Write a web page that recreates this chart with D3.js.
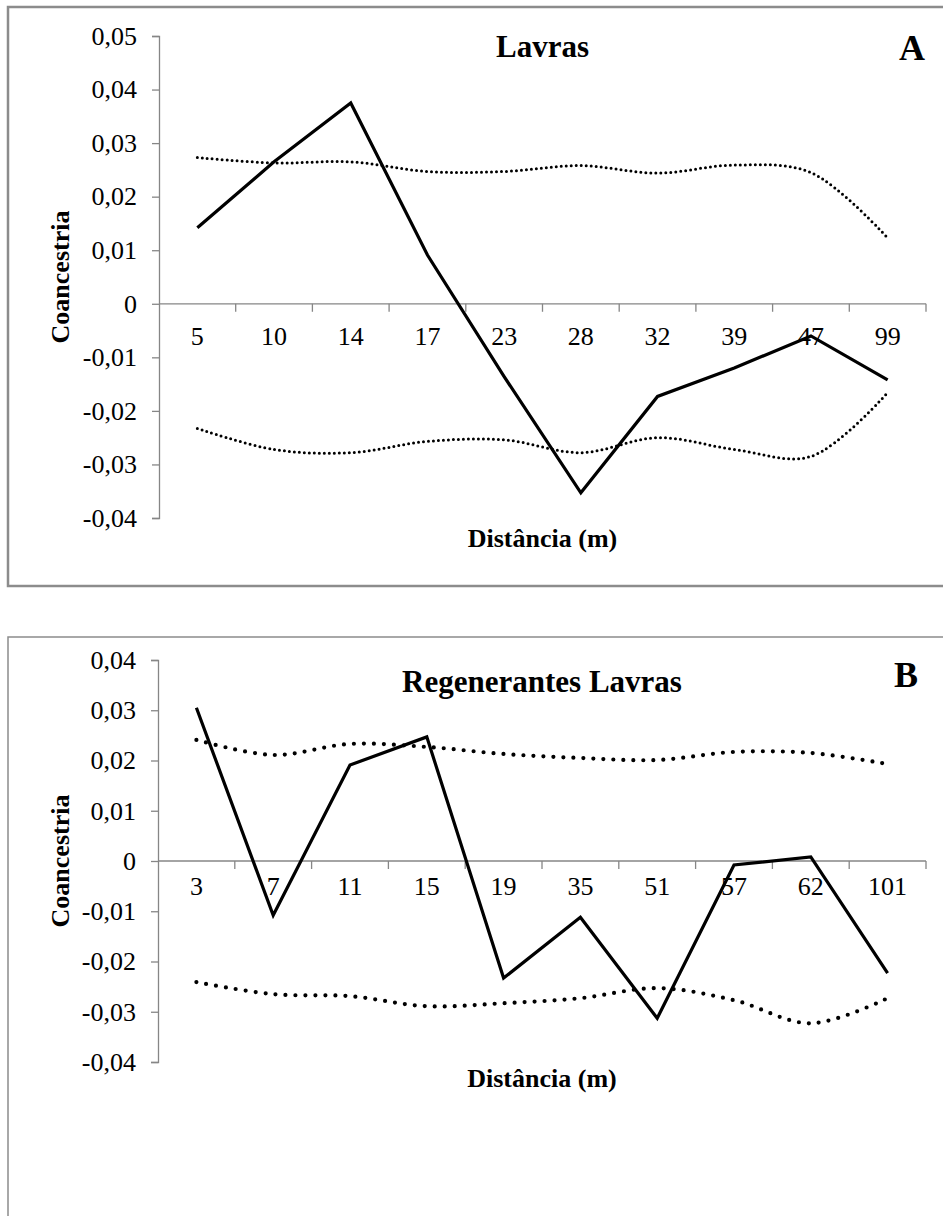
<!DOCTYPE html>
<html>
<head>
<meta charset="utf-8">
<script src="https://cdn.jsdelivr.net/npm/d3@7"></script>
<style>
  body { margin: 0; background: #fff; }
  svg { display: block; }
  text { font-family: "Liberation Serif", "Times New Roman", serif; fill: #000; }
</style>
</head>
<body>
<svg id="chart" width="943" height="1216"></svg>
<script>
// panel A – Lavras
const distA = ["5", "10", "14", "17", "23", "28", "32", "39", "47", "99"];
const coanA = [0.0142, 0.0265, 0.0375, 0.0091, -0.0136, -0.0353, -0.0173, -0.012, -0.006, -0.0142];
const upperA = [0.0273, 0.0263, 0.0265, 0.0247, 0.0247, 0.0258, 0.0244, 0.0259, 0.0245, 0.0123];
const lowerA = [-0.0233, -0.0272, -0.0278, -0.0257, -0.0254, -0.0278, -0.025, -0.0272, -0.0285, -0.0166];
const ticksA = [0.05, 0.04, 0.03, 0.02, 0.01, 0, -0.01, -0.02, -0.03, -0.04];

// panel B – Regenerantes Lavras
const distB = ["3", "7", "11", "15", "19", "35", "51", "57", "62", "101"];
const coanB = [0.0305, -0.0108, 0.0191, 0.0247, -0.0233, -0.0112, -0.0313, -0.0008, 0.0008, -0.0223];
const upperB = [0.0241, 0.0211, 0.0233, 0.0227, 0.0213, 0.0205, 0.0201, 0.0217, 0.0215, 0.0193];
const lowerB = [-0.0241, -0.0265, -0.0269, -0.0289, -0.0283, -0.0273, -0.0253, -0.0277, -0.0323, -0.0273];
const ticksB = [0.04, 0.03, 0.02, 0.01, 0, -0.01, -0.02, -0.03, -0.04];

const svg = d3.select("#chart");
const fmt = (v) => (Math.abs(v) < 1e-9 ? "0" : v.toFixed(2).replace(".", ","));
const axisColor = "#868686";

function drawPanel(p) {
  const g = svg.append("g");

  // frame (right / bottom run past the picture edge)
  g.append("rect")
    .attr("x", p.frame[0]).attr("y", p.frame[1])
    .attr("width", p.frame[2]).attr("height", p.frame[3])
    .attr("fill", "none").attr("stroke", "#8c8c8c").attr("stroke-width", p.frameW);

  const y = d3.scaleLinear().domain(d3.extent(p.ticks)).range([p.bottom, p.top]);
  const x = d3.scaleBand().domain(p.cats).range([p.left, p.right]);
  const xi = d3.scaleLinear().domain([0, p.cats.length]).range([p.left, p.right]);

  // y axis
  const ya = g.append("g")
    .attr("transform", `translate(${p.left},0)`)
    .call(d3.axisLeft(y).tickValues(p.ticks).tickFormat(fmt).tickSize(7).tickPadding(15));
  ya.selectAll("path, line").attr("stroke", axisColor).attr("stroke-width", 1.3);
  ya.selectAll("text").attr("font-size", 26).attr("font-family", "Liberation Serif");

  // x axis along zero line, ticks between categories
  const y0 = y(0);
  g.append("line")
    .attr("x1", p.left).attr("x2", p.right)
    .attr("y1", y0).attr("y2", y0)
    .attr("stroke", axisColor).attr("stroke-width", 1.3);
  g.selectAll(".xtick")
    .data(d3.range(1, p.cats.length + 1))
    .join("line")
    .attr("x1", (d) => xi(d)).attr("x2", (d) => xi(d))
    .attr("y1", y0).attr("y2", y0 + 8)
    .attr("stroke", axisColor).attr("stroke-width", 1.3);
  g.selectAll(".xlab")
    .data(p.cats)
    .join("text")
    .attr("x", (d) => x(d) + x.bandwidth() / 2)
    .attr("y", y0 + p.labOff)
    .attr("text-anchor", "middle")
    .attr("font-size", 26)
    .text((d) => d);

  const line = (curve) =>
    d3.line()
      .x((d, i) => x(p.cats[i]) + x.bandwidth() / 2)
      .y((d) => y(d))
      .curve(curve);

  [p.upper, p.lower].forEach((s) => {
    g.append("path")
      .attr("d", line(d3.curveCatmullRom)(s))
      .attr("fill", "none")
      .attr("stroke", "#000")
      .attr("stroke-width", p.dotW)
      .attr("stroke-linecap", "round")
      .attr("stroke-dasharray", `0 ${p.dotGap}`);
  });

  g.append("path")
    .attr("d", line(d3.curveLinear)(p.coan))
    .attr("fill", "none")
    .attr("stroke", "#000")
    .attr("stroke-width", 3.2)
    .attr("stroke-linejoin", "miter");

  // titles
  const cx = (p.left + p.right) / 2;
  g.append("text")
    .attr("x", cx).attr("y", p.titleY)
    .attr("text-anchor", "middle")
    .attr("font-size", 31).attr("font-weight", "bold")
    .text(p.title);
  g.append("text")
    .attr("x", p.letterX).attr("y", p.letterY)
    .attr("text-anchor", "middle")
    .attr("font-size", 36).attr("font-weight", "bold")
    .text(p.letter);
  g.append("text")
    .attr("x", cx).attr("y", p.xTitleY)
    .attr("text-anchor", "middle")
    .attr("font-size", 26).attr("font-weight", "bold")
    .text("Distância (m)");
  g.append("text")
    .attr("transform", `translate(69,${(p.top + p.bottom) / 2}) rotate(-90)`)
    .attr("text-anchor", "middle")
    .attr("font-size", 26).attr("font-weight", "bold")
    .text("Coancestria");

  return g;
}

drawPanel({
  cats: distA, coan: coanA, upper: upperA, lower: lowerA, ticks: ticksA,
  frame: [8, 7, 960, 579], frameW: 2.5,
  left: 159, right: 926, top: 36, bottom: 518,
  labOff: 41, titleY: 57, title: "Lavras",
  letter: "A", letterX: 912, letterY: 60, xTitleY: 547,
  dotW: 3, dotGap: 5
});

drawPanel({
  cats: distB, coan: coanB, upper: upperB, lower: lowerB, ticks: ticksB,
  frame: [8, 637, 960, 640], frameW: 1.5,
  left: 158, right: 926, top: 660, bottom: 1062,
  labOff: 34, titleY: 692, title: "Regenerantes Lavras",
  letter: "B", letterX: 906, letterY: 687, xTitleY: 1087,
  dotW: 4.2, dotGap: 10
});
</script>
</body>
</html>
